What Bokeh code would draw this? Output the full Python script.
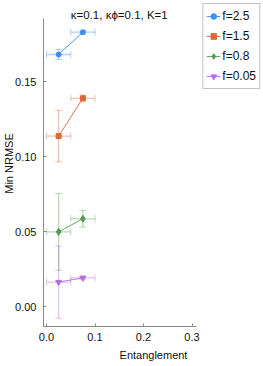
from bokeh.plotting import figure
from bokeh.models import (ColumnDataSource, Whisker, TeeHead, Legend, LegendItem,
                          FixedTicker, Range1d, Label)
from bokeh.embed import file_html
from bokeh.resources import INLINE

# ---- data ----
title_text = "κ=0.1, κϕ=0.1, K=1"
x_label = "Entanglement"
y_label = "Min NRMSE"

entanglement = [0.025, 0.075]
entanglement_err = [0.025, 0.025]

series_labels = ["f=2.5", "f=1.5", "f=0.8", "f=0.05"]
nrmse_f25 = [0.1682, 0.1831]
nrmse_f25_err = [0.0033, 0.0010]
nrmse_f15 = [0.1138, 0.1390]
nrmse_f15_err = [0.0172, 0.0022]
nrmse_f08 = [0.0500, 0.0587]
nrmse_f08_err = [0.0256, 0.0055]
nrmse_f005 = [0.0165, 0.0193]
nrmse_f005_err = [0.0241, 0.0012]

x_ticks = [0.0, 0.1, 0.2, 0.3]
x_tick_labels = ["0.0", "0.1", "0.2", "0.3"]
y_ticks = [0.0, 0.05, 0.10, 0.15]
y_tick_labels = ["0.00", "0.05", "0.10", "0.15"]

# axis extents (shown part of each axis)
x_axis_bounds = (-0.006, 0.31)
y_axis_bounds = (-0.013, 0.192)

# ---- styles ----
colors = ["#3d8ff0", "#d8693c", "#4f9d4f", "#b56ee0"]
markers = ["circle", "square", "diamond", "inverted_triangle"]
marker_sizes = [5, 5, 7, 6]
FONT = "Liberation Sans"
AXIS_GREY = "#8a8a8a"

p = figure(width=263, height=366, output_backend="svg", toolbar_location=None,
           x_range=Range1d(-0.0062, 0.4474), y_range=Range1d(-0.0131, 0.2042),
           min_border_left=43, min_border_right=0, min_border_top=0, min_border_bottom=40)

p.outline_line_color = None
p.grid.visible = False
p.background_fill_color = "white"
p.border_fill_color = "white"

for ax in (p.xaxis[0], p.yaxis[0]):
    ax.axis_line_color = AXIS_GREY
    ax.major_tick_line_color = AXIS_GREY
    ax.minor_tick_line_color = None
    ax.major_tick_in = 3
    ax.major_tick_out = 0
    ax.major_label_text_font = FONT
    ax.major_label_text_font_size = "11px"
    ax.major_label_text_color = "#111111"
    ax.axis_label_text_font = FONT
    ax.axis_label_text_font_size = "11px"
    ax.axis_label_text_font_style = "normal"
    ax.axis_label_text_color = "#111111"

p.xaxis.ticker = FixedTicker(ticks=x_ticks)
p.xaxis.major_label_overrides = dict(zip(x_ticks, x_tick_labels))
p.xaxis.bounds = x_axis_bounds
p.yaxis.ticker = FixedTicker(ticks=y_ticks)
p.yaxis.major_label_overrides = dict(zip(y_ticks, y_tick_labels))
p.yaxis.bounds = y_axis_bounds
p.xaxis.axis_label = x_label
p.yaxis.axis_label = y_label
p.xaxis.major_label_standoff = 6
p.xaxis.axis_label_standoff = 5
p.yaxis.major_label_standoff = 7
p.yaxis.axis_label_standoff = -3

series_vals = [nrmse_f25, nrmse_f15, nrmse_f08, nrmse_f005]
series_errs = [nrmse_f25_err, nrmse_f15_err, nrmse_f08_err, nrmse_f005_err]

items = []
for lab, ys, es, col, mk, ms in zip(series_labels, series_vals, series_errs,
                                    colors, markers, marker_sizes):
    src = ColumnDataSource(dict(
        x=entanglement, y=ys,
        ylo=[y - e for y, e in zip(ys, es)], yhi=[y + e for y, e in zip(ys, es)],
        xlo=[x - e for x, e in zip(entanglement, entanglement_err)],
        xhi=[x + e for x, e in zip(entanglement, entanglement_err)],
    ))
    wy = Whisker(base="x", lower="ylo", upper="yhi", source=src, dimension="height",
                 line_color=col, line_alpha=0.4, line_width=1.3,
                 upper_head=TeeHead(size=7, line_color=col, line_alpha=0.4, line_width=1),
                 lower_head=TeeHead(size=7, line_color=col, line_alpha=0.4, line_width=1))
    wx = Whisker(base="y", lower="xlo", upper="xhi", source=src, dimension="width",
                 line_color=col, line_alpha=0.4, line_width=1.3,
                 upper_head=TeeHead(size=7, line_color=col, line_alpha=0.4, line_width=1),
                 lower_head=TeeHead(size=7, line_color=col, line_alpha=0.4, line_width=1))
    p.add_layout(wy)
    p.add_layout(wx)
    lr = p.line("x", "y", source=src, line_color=col, line_width=1, line_alpha=0.9)
    sr = p.scatter("x", "y", source=src, marker=mk, size=ms, fill_color=col,
                   line_color=col)
    items.append(LegendItem(label=lab, renderers=[lr, sr]))

# title drawn as a label centred over the shown x-axis extent, just above its top
title = Label(x=(x_ticks[0] + x_ticks[-1]) / 2, y=y_axis_bounds[1],
              y_offset=4, text=title_text, text_align="center",
              text_baseline="middle", text_font=FONT, text_font_size="11.5px",
              text_color="#111111")
p.add_layout(title)

legend = Legend(items=items, location="top_right", orientation="vertical",
                label_text_font=FONT, label_text_font_size="12px",
                label_text_color="#111111",
                glyph_width=14, glyph_height=18, label_height=18,
                label_standoff=2, spacing=2, padding=3, margin=3,
                border_line_color="#888888", border_line_width=1,
                background_fill_color="white", background_fill_alpha=1.0)
p.add_layout(legend, "center")

open("out.html", "w").write(file_html(p, INLINE))
